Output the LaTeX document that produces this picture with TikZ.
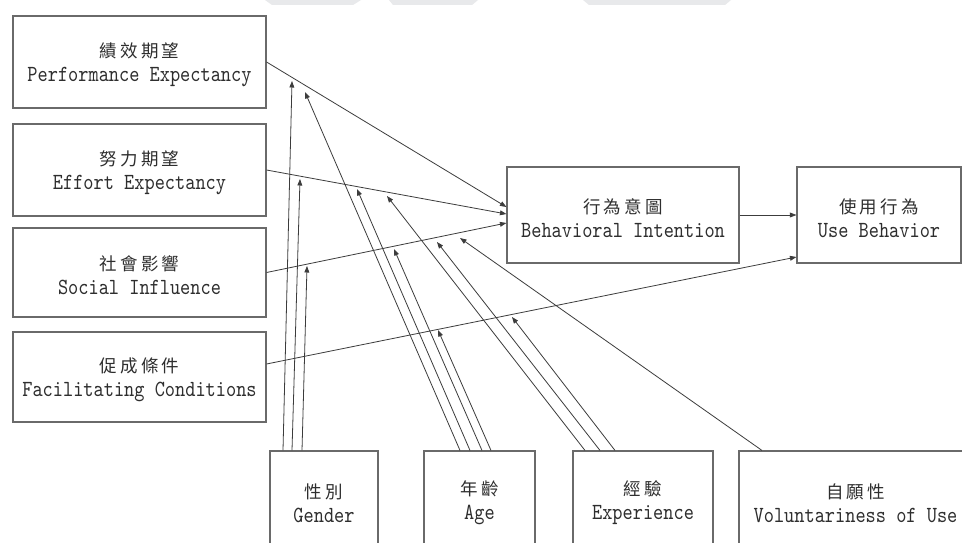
\documentclass[tikz,border=0pt]{standalone}
\usepackage{fontspec}
\setmainfont{Liberation Serif}
\newfontfamily\cjk[LetterSpace=18]{Noto Sans CJK TC}
\newfontfamily\lat[FakeStretch=0.84,Scale=1.32]{lmmono10-regular.otf}
\usetikzlibrary{arrows.meta}
\definecolor{boxgray}{HTML}{6A6A6A}
\definecolor{linegray}{HTML}{3C3C3C}
\definecolor{txtgray}{HTML}{2E2E2E}
\definecolor{wmgray}{HTML}{E8E9EB}
\newcommand{\twoline}[2]{{\rule{0pt}{21pt}\cjk #1}\\[-1pt]{\lat #2}}
\tikzset{
  box/.style={draw=boxgray, line width=1.1pt, rectangle, inner sep=0pt, align=center,
    text=txtgray, font=\fontsize{17.5}{25}\selectfont},
  conn/.style={draw=linegray, line width=0.8pt, -{Triangle[length=6.5pt,width=4.8pt]}},
  wm/.style={fill=wmgray, draw=none}
}
\begin{document}
\begin{tikzpicture}[x=1pt,y=-1pt]
\useasboundingbox (0,0) rectangle (962,543);
\clip (0,0) rectangle (962,543);
\fill[white] (0,0) rectangle (962,543);
% faint marks along the top edge
\fill[wm] (265,0) -- (361,0) -- (353,5) -- (272,5) -- cycle;
\fill[wm] (389,0) -- (478,0) -- (472,5) -- (393,5) -- cycle;
\fill[wm] (583,0) -- (731,0) -- (725,5) -- (589,5) -- cycle;

% boxes
\node[box, minimum width=253pt, minimum height=92pt] (pe) at (139.5,62) {\twoline{績效期望}{Performance Expectancy}};
\node[box, minimum width=253pt, minimum height=92pt] (ee) at (139.5,170) {\twoline{努力期望}{Effort Expectancy}};
\node[box, minimum width=253pt, minimum height=89pt] (si) at (139.5,272.5) {\twoline{社會影響}{Social Influence}};
\node[box, minimum width=253pt, minimum height=90pt] (fc) at (139.5,377) {\twoline{促成條件}{Facilitating Conditions}};
\node[box, minimum width=232pt, minimum height=96pt] (bi) at (623,215) {\twoline{行為意圖}{Behavioral Intention}};
\node[box, minimum width=164pt, minimum height=96pt] (ub) at (879,215) {\twoline{使用行為}{Use Behavior}};
\node[box, minimum width=108pt, minimum height=98pt] (gd) at (324,500) {\twoline{性別}{Gender}};
\node[box, minimum width=111pt, minimum height=98pt] (ag) at (479.5,500) {\twoline{年齡}{Age}};
\node[box, minimum width=140pt, minimum height=98pt] (ex) at (643,500) {\twoline{經驗}{Experience}};
\node[box, minimum width=233pt, minimum height=98pt] (vo) at (855.5,500) {\twoline{自願性}{Voluntariness of Use}};

% main paths
\draw[conn] (pe.east) -- ([yshift=8pt]bi.west);
\draw[conn] (ee.east) -- ([yshift=1pt]bi.west);
\draw[conn] (si.east) -- ([yshift=-8pt]bi.west);
\draw[conn] ([yshift=13pt]fc.east) -- ([yshift=-42pt]ub.west);
\draw[conn] (bi.east) -- (ub.west);

% moderator targets
\coordinate (gPE) at (292,81);
\coordinate (gEE) at (300,179);
\coordinate (gSI) at (307,266);
\coordinate (aPE) at (305,92);
\coordinate (aEE) at (357,189);
\coordinate (aSI) at (394,249);
\coordinate (aFC) at (438,330);
\coordinate (eEE) at (387,196);
\coordinate (eSI) at (437,242);
\coordinate (eFC) at (512,317);
\coordinate (vSI) at (460,238);

% gender
\draw[conn] ([xshift=-41pt]gd.north) -- (gPE);
\draw[conn] ([xshift=-32pt]gd.north) -- (gEE);
\draw[conn] ([xshift=-22pt]gd.north) -- (gSI);
% age
\draw[conn] ([xshift=-19.5pt]ag.north) -- (aPE);
\draw[conn] ([xshift=-9.5pt]ag.north) -- (aEE);
\draw[conn] ([xshift=2.5pt]ag.north) -- (aSI);
\draw[conn] ([xshift=11.5pt]ag.north) -- (aFC);
% experience
\draw[conn] ([xshift=-58pt]ex.north) -- (eEE);
\draw[conn] ([xshift=-43pt]ex.north) -- (eSI);
\draw[conn] ([xshift=-28pt]ex.north) -- (eFC);
% voluntariness
\draw[conn] ([xshift=-93.5pt]vo.north) -- (vSI);
\end{tikzpicture}
\end{document}
